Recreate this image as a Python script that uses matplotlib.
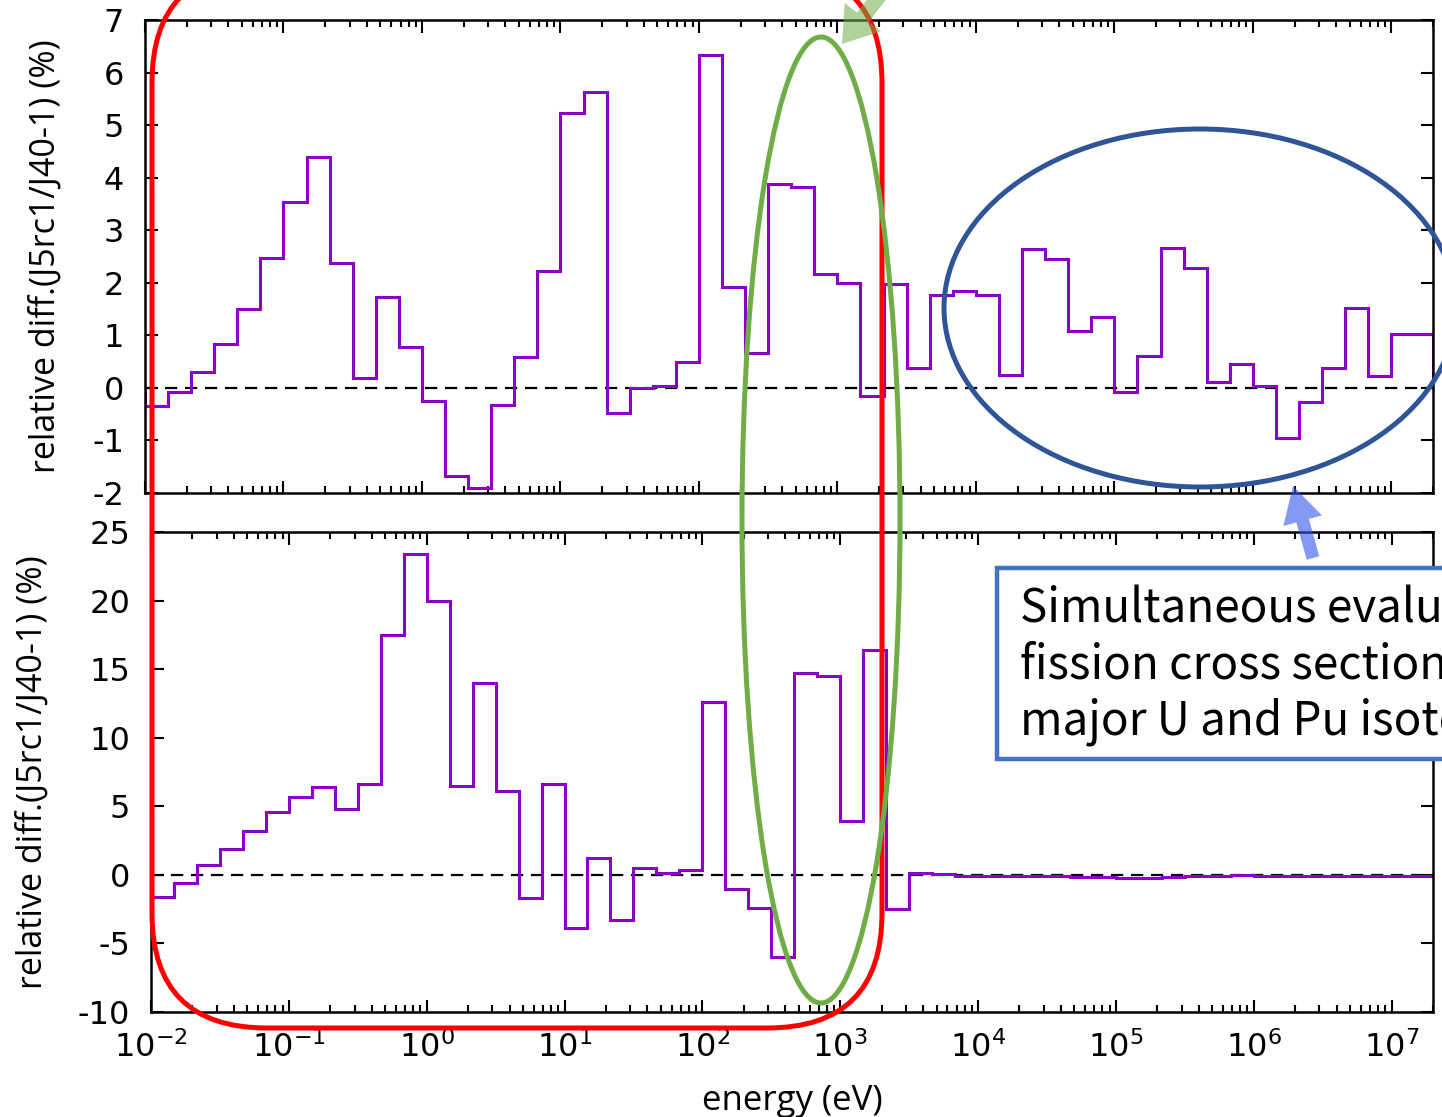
import numpy as np
import matplotlib
matplotlib.use("Agg")
import matplotlib.pyplot as plt
import matplotlib.patches as mpatches
from matplotlib.ticker import LogLocator, FuncFormatter, MultipleLocator, NullFormatter

plt.rcParams['font.family'] = ['Open Sans', 'DejaVu Sans']
plt.rcParams['mathtext.fontset'] = 'custom'
plt.rcParams['mathtext.rm'] = 'DejaVu Sans'
plt.rcParams['mathtext.default'] = 'rm'
plt.rcParams['axes.unicode_minus'] = False

# energy group boundaries (eV): 6 groups per decade, last group up to 20 MeV
edges = np.append(np.logspace(-2, 7, 55), 2e7)

# relative diff. (J5rc1/J40-1) in %, upper and lower panel
diff_top = [-0.35, -0.07, 0.31, 0.83, 1.50, 2.47, 3.54, 4.39, 2.38, 0.19,
            1.72, 0.78, -0.25, -1.67, -1.90, -0.32, 0.59, 2.22, 5.23, 5.63,
            -0.48, 0.00, 0.03, 0.50, 6.33, 1.92, 0.66, 3.87, 3.83, 2.17,
            2.00, -0.15, 1.98, 0.38, 1.77, 1.85, 1.77, 0.25, 2.64, 2.45,
            1.08, 1.35, -0.07, 0.61, 2.67, 2.28, 0.11, 0.45, 0.04, -0.95,
            -0.27, 0.38, 1.52, 0.23, 1.03]
diff_bot = [-1.6, -0.6, 0.7, 1.9, 3.2, 4.6, 5.7, 6.4, 4.8, 6.6,
            17.5, 23.4, 20.0, 6.5, 14.0, 6.1, -1.7, 6.6, -3.9, 1.2,
            -3.3, 0.5, 0.15, 0.35, 12.6, -1.0, -2.4, -6.0, 14.7, 14.5,
            3.9, 16.4, -2.5, 0.15, 0.05, -0.05, -0.1, -0.1, -0.1, -0.1,
            -0.15, -0.15, -0.25, -0.2, -0.15, -0.1, -0.05, 0.0, -0.05, -0.05,
            -0.1, -0.05, -0.05, -0.05, -0.05]

ylabel = "relative diff.(J5rc1/J40-1) (%)"
purple = "#8a00c8"

W, H = 1442, 1117
fig = plt.figure(figsize=(W / 100, H / 100), dpi=100)


def px_axes(left, top, right, bottom):
    return fig.add_axes([left / W, 1 - bottom / H, (right - left) / W, (bottom - top) / H])


def style(ax, ylim, ystep):
    ax.set_xscale("log")
    ax.set_xlim(1e-2, 2e7)
    ax.set_ylim(*ylim)
    ax.xaxis.set_major_locator(LogLocator(base=10, numticks=20))
    ax.xaxis.set_minor_locator(LogLocator(base=10, subs=np.arange(2, 10), numticks=20))
    ax.xaxis.set_minor_formatter(NullFormatter())
    ax.xaxis.set_major_formatter(FuncFormatter(lambda v, p: r"$10^{%d}$" % round(np.log10(v))))
    ax.yaxis.set_major_locator(MultipleLocator(ystep))
    ax.tick_params(which="both", direction="in", top=True, right=True, width=1.5)
    ax.tick_params(which="major", length=9, labelsize=23, labelfontfamily="DejaVu Sans")
    ax.tick_params(which="minor", length=5)
    ax.tick_params(axis="y", pad=15)
    ax.tick_params(axis="x", pad=14)
    for s in ax.spines.values():
        s.set_linewidth(1.8)
    ax.axhline(0, color="black", lw=1.6, ls=(0, (5.5, 3.5)), zorder=1)


ax1 = px_axes(145, 20, 1433, 493)
ax1.stairs(diff_top, edges, color=purple, lw=2.2, zorder=2)
style(ax1, (-2, 7), 1)
ax1.tick_params(axis="x", labelbottom=False)
ax1.set_ylabel(ylabel, fontsize=24.5)
ax1.yaxis.set_label_coords(-0.064, 0.5)

ax2 = px_axes(151, 532, 1433, 1012)
ax2.stairs(diff_bot, edges, color=purple, lw=2.2, zorder=2)
style(ax2, (-10, 25), 5)
ax2.set_ylabel(ylabel, fontsize=24.5)
ax2.yaxis.set_label_coords(-0.079, 0.5)
ax2.set_xlabel("energy (eV)", fontsize=25, labelpad=14)

# annotation layer in pixel coordinates
ov = fig.add_axes([0, 0, 1, 1], zorder=10)
ov.set_xlim(0, W)
ov.set_ylim(H, 0)
ov.axis("off")

ov.add_patch(mpatches.FancyBboxPatch((152, -32), 730, 1060,
                                     boxstyle="round,pad=0,rounding_size=115",
                                     fill=False, ec="#ff0000", lw=3.6))
ov.add_patch(mpatches.Ellipse((821, 520), 158, 966, fill=False, ec="#70ad47", lw=3.6))
ov.add_patch(mpatches.Ellipse((1200, 308), 512, 358, fill=False, ec="#2f5597", lw=3.6))
ov.add_patch(mpatches.FancyArrow(884, -10, -42, 54, width=15, head_width=46, head_length=34,
                                 length_includes_head=True, color="#70ad47", alpha=0.55, lw=0))
ov.add_patch(mpatches.FancyArrow(1313, 558, -20, -72, width=13, head_width=40, head_length=36,
                                 length_includes_head=True, color="#3355ee", alpha=0.6, lw=0))

ov.add_patch(mpatches.Rectangle((997, 568), 600, 191, fc="white", ec="#4472c4", lw=3.2))
lines = ["Simultaneous evaluation of", "fission cross sections of", "major U and Pu isotopes"]
for i, t in enumerate(lines):
    ov.text(1020, 622 + 56.5 * i, t, fontsize=33, va="baseline", ha="left", color="black",
            family=["Noto Sans CJK JP", "DejaVu Sans"])

fig.savefig("out.png", dpi=100)
